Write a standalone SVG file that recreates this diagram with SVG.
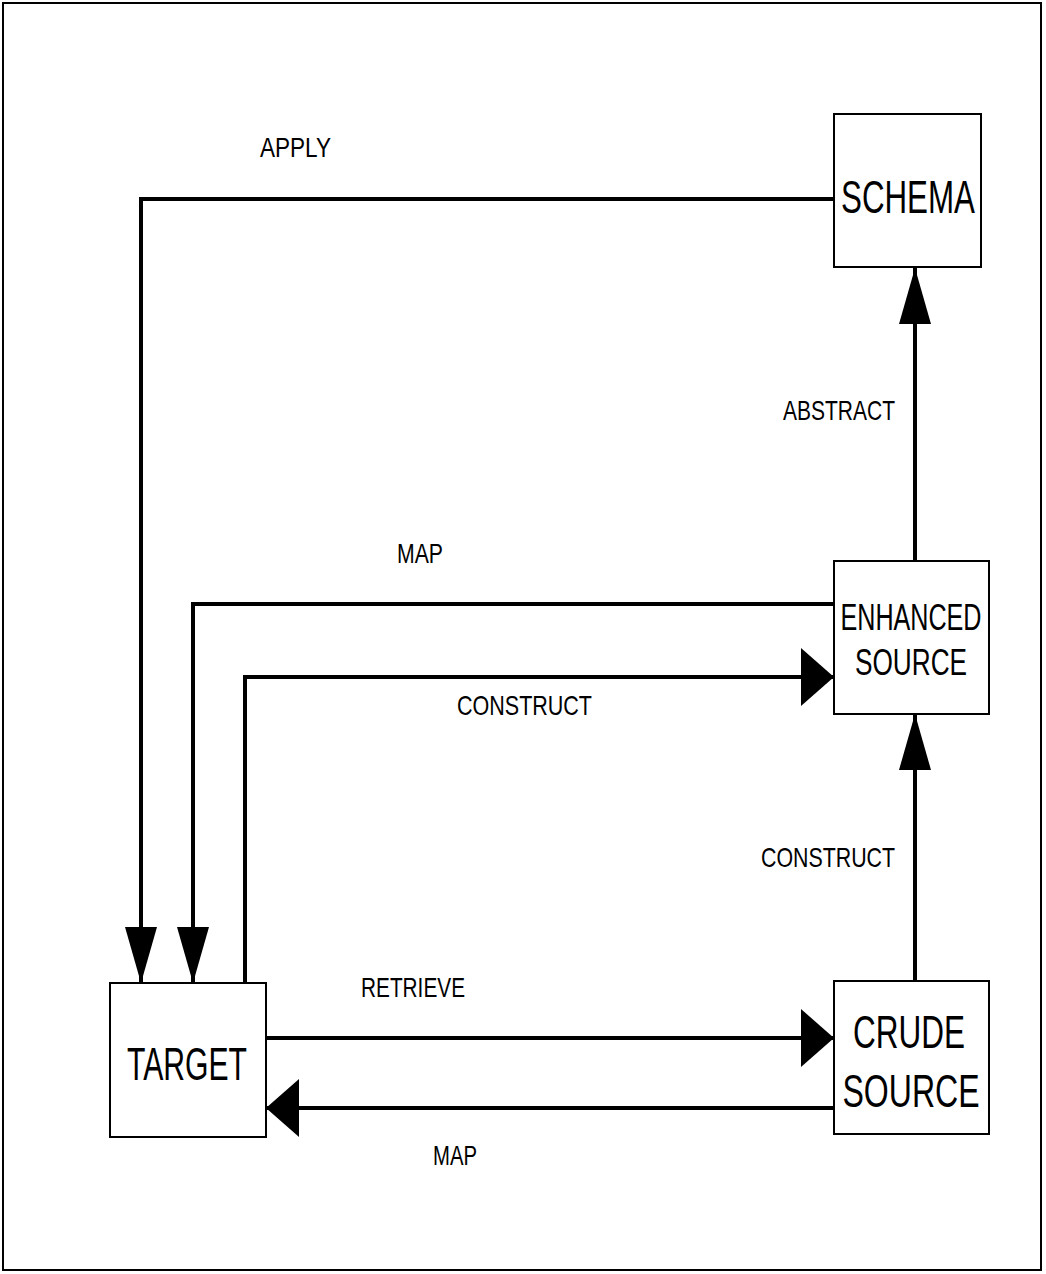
<svg xmlns="http://www.w3.org/2000/svg" width="1046" height="1274" viewBox="0 0 1046 1274">
<style>
.frame{fill:none;stroke:#000;stroke-width:2}
.box{fill:#fff;stroke:#000;stroke-width:2}
.conn{fill:none;stroke:#000;stroke-width:4;stroke-linejoin:miter}
.lbl{font-family:"Liberation Sans",Arial,sans-serif;font-size:28px;fill:#000}
.node{font-family:"Liberation Sans",Arial,sans-serif;fill:#000;text-anchor:middle}
</style>
<defs>
<marker id="arrV" markerUnits="userSpaceOnUse" markerWidth="56" markerHeight="32" refX="56" refY="16" orient="auto" viewBox="0 0 56 32"><path d="M0,0 L56,16 L0,32 z" fill="#000"/></marker>
<marker id="arrH" markerUnits="userSpaceOnUse" markerWidth="33" markerHeight="58" refX="33" refY="29" orient="auto" viewBox="0 0 33 58"><path d="M0,0 L33,29 L0,58 z" fill="#000"/></marker>
</defs>
<rect x="0" y="0" width="1046" height="1274" fill="#fff"/>
<rect class="frame" x="3" y="3" width="1038" height="1267"/>
<g id="connectors">
<path class="conn" d="M834,199 H141 V983" marker-end="url(#arrV)"/>
<path class="conn" d="M834,604 H193 V983" marker-end="url(#arrV)"/>
<path class="conn" d="M245,983 V677 H834" marker-end="url(#arrH)"/>
<path class="conn" d="M266,1038 H834" marker-end="url(#arrH)"/>
<path class="conn" d="M834,1108 H266" marker-end="url(#arrH)"/>
<path class="conn" d="M915,981 V714" marker-end="url(#arrV)"/>
<path class="conn" d="M915,561 V268" marker-end="url(#arrV)"/>
<text class="lbl" x="260" y="157" textLength="71" lengthAdjust="spacingAndGlyphs">APPLY</text>
<text class="lbl" x="783" y="420" textLength="112" lengthAdjust="spacingAndGlyphs">ABSTRACT</text>
<text class="lbl" x="397" y="563" textLength="46" lengthAdjust="spacingAndGlyphs">MAP</text>
<text class="lbl" x="457" y="715" textLength="135" lengthAdjust="spacingAndGlyphs">CONSTRUCT</text>
<text class="lbl" x="761" y="867" textLength="134" lengthAdjust="spacingAndGlyphs">CONSTRUCT</text>
<text class="lbl" x="361" y="997" textLength="104" lengthAdjust="spacingAndGlyphs">RETRIEVE</text>
<text class="lbl" x="433" y="1165" textLength="44" lengthAdjust="spacingAndGlyphs">MAP</text>
</g>
<g id="schema">
<rect class="box" x="834" y="114" width="147" height="153"/>
<text class="node" x="908" y="213" font-size="47" textLength="134" lengthAdjust="spacingAndGlyphs">SCHEMA</text>
</g>
<g id="enhanced-source">
<rect class="box" x="834" y="561" width="155" height="153"/>
<text class="node" x="911" y="630" font-size="36" textLength="141" lengthAdjust="spacingAndGlyphs">ENHANCED</text>
<text class="node" x="911" y="675" font-size="36" textLength="112" lengthAdjust="spacingAndGlyphs">SOURCE</text>
</g>
<g id="crude-source">
<rect class="box" x="834" y="981" width="155" height="153"/>
<text class="node" x="909" y="1048" font-size="46" textLength="112" lengthAdjust="spacingAndGlyphs">CRUDE</text>
<text class="node" x="911" y="1107" font-size="46" textLength="137" lengthAdjust="spacingAndGlyphs">SOURCE</text>
</g>
<g id="target">
<rect class="box" x="110" y="983" width="156" height="154"/>
<text class="node" x="187" y="1080" font-size="46" textLength="120" lengthAdjust="spacingAndGlyphs">TARGET</text>
</g>
</svg>
